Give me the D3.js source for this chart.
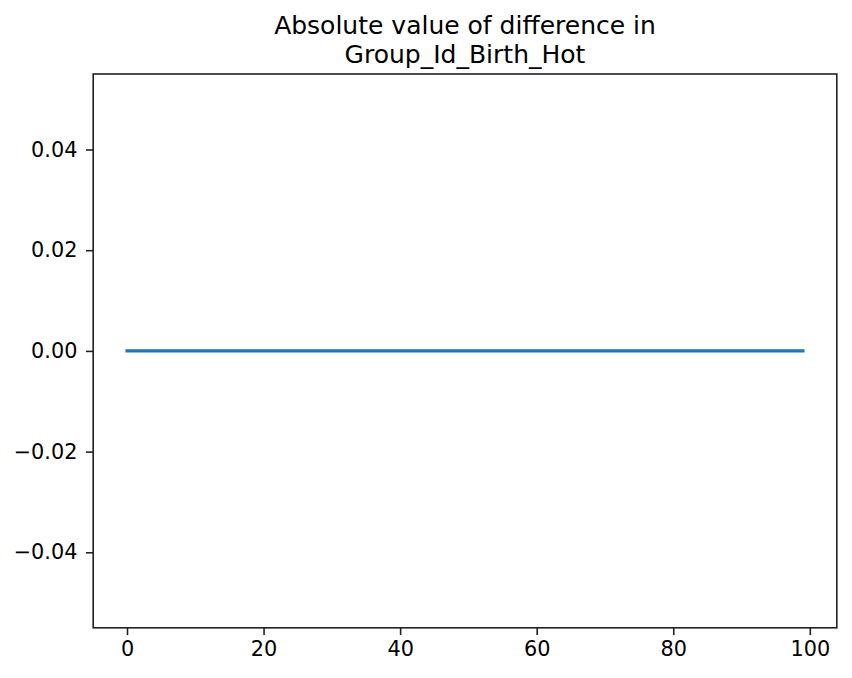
<!DOCTYPE html>
<html><head><meta charset="utf-8">
<script src="https://cdn.jsdelivr.net/npm/d3@7"></script>
<style>body{margin:0;background:#fff}svg{display:block}text{font-family:"DejaVu Sans",sans-serif;fill:#000}</style>
</head><body>
<script>
const titleLines = ["Absolute value of difference in", "Group_Id_Birth_Hot"];
const xValues = [0,1,2,3,4,5,6,7,8,9,10,11,12,13,14,15,16,17,18,19,20,21,22,23,24,25,26,27,28,29,30,31,32,33,34,35,36,37,38,39,40,41,42,43,44,45,46,47,48,49,50,51,52,53,54,55,56,57,58,59,60,61,62,63,64,65,66,67,68,69,70,71,72,73,74,75,76,77,78,79,80,81,82,83,84,85,86,87,88,89,90,91,92,93,94,95,96,97,98,99];
const yValues = [0,0,0,0,0,0,0,0,0,0,0,0,0,0,0,0,0,0,0,0,0,0,0,0,0,0,0,0,0,0,0,0,0,0,0,0,0,0,0,0,0,0,0,0,0,0,0,0,0,0,0,0,0,0,0,0,0,0,0,0,0,0,0,0,0,0,0,0,0,0,0,0,0,0,0,0,0,0,0,0,0,0,0,0,0,0,0,0,0,0,0,0,0,0,0,0,0,0,0,0];
const xTicks = [0,20,40,60,80,100];
const yTicks = [-0.04,-0.02,0.00,0.02,0.04];
const xDomain = [-4.95, 103.95];
const yDomain = [-0.055, 0.055];

const W = 852, H = 678;
const L = 93.2, R = 836.8, T = 74, B = 627.8;
const svg = d3.select("body").append("svg").attr("width", W).attr("height", H);
const x = d3.scaleLinear().domain(xDomain).range([L, R]);
const y = d3.scaleLinear().domain(yDomain).range([B, T]);

const fmtY = d => (d < 0 ? "\u2212" : "") + Math.abs(d).toFixed(2);

const xAxis = svg.append("g").attr("transform", `translate(0,${B})`)
  .call(d3.axisBottom(x).tickValues(xTicks).tickSize(7.3).tickPadding(6.5).tickFormat(d3.format("d")));
const yAxis = svg.append("g").attr("transform", `translate(${L},0)`)
  .call(d3.axisLeft(y).tickValues(yTicks).tickSize(7.3).tickPadding(8.5).tickFormat(fmtY));
[xAxis, yAxis].forEach(g => {
  g.select(".domain").remove();
  g.selectAll(".tick line").attr("stroke", "#222").attr("stroke-width", 1.6);
  g.selectAll(".tick text").attr("font-size", 20.8).attr("font-family", "DejaVu Sans").attr("fill", "#000");
});

svg.append("path")
  .datum(xValues.map((v, i) => [v, yValues[i]]))
  .attr("fill", "none").attr("stroke", "#1f77b4").attr("stroke-width", 3.1)
  .attr("stroke-linecap", "square")
  .attr("d", d3.line().x(d => x(d[0])).y(d => y(d[1])));

svg.append("rect").attr("x", L).attr("y", T).attr("width", R - L).attr("height", B - T)
  .attr("fill", "none").attr("stroke", "#222").attr("stroke-width", 1.6);

svg.append("g").selectAll("text").data(titleLines).join("text")
  .attr("x", (L + R) / 2).attr("y", (d, i) => 34.3 + i * 28.6)
  .attr("text-anchor", "middle").attr("font-size", 25).text(d => d);
</script>
</body></html>
